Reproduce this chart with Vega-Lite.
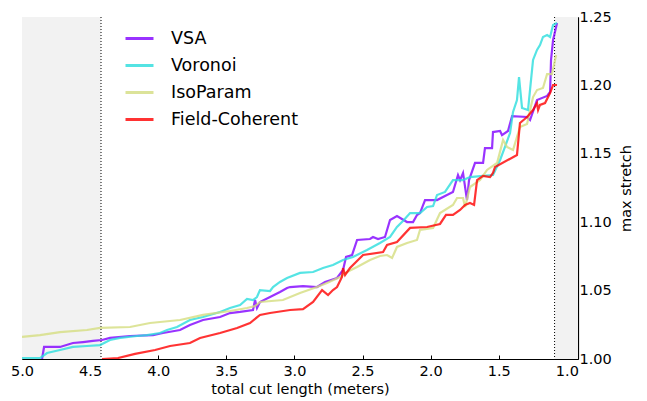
{
  "$schema": "https://vega.github.io/schema/vega-lite/v6.json",
  "width": 556,
  "height": 342,
  "autosize": "none",
  "padding": {"left": 22, "top": 17, "right": 69, "bottom": 42},
  "config": {
    "font": "DejaVu Sans",
    "view": {"stroke": null},
    "axis": {"grid": false, "domainColor": "black", "tickColor": "black", "labelColor": "black", "titleColor": "black", "titleFontWeight": "normal", "labelFontSize": 14.5, "titleFontSize": 14.5, "tickSize": -4, "labelFlush": false, "domainWidth": 1.2, "tickWidth": 1}
  },
  "datasets": {
    "bands": [{"x0": 5.0, "x1": 4.42}, {"x0": 1.09, "x1": 0.918}],
    "rules": [{"x": 4.42}, {"x": 1.09}],
    "series": [
      {"m":"VSA","i":0,"x":4.853,"y":1.000},
      {"m":"VSA","i":1,"x":4.838,"y":1.0088},
      {"m":"VSA","i":2,"x":4.721,"y":1.0088},
      {"m":"VSA","i":3,"x":4.626,"y":1.0117},
      {"m":"VSA","i":4,"x":4.552,"y":1.0124},
      {"m":"VSA","i":5,"x":4.479,"y":1.0132},
      {"m":"VSA","i":6,"x":4.413,"y":1.0139},
      {"m":"VSA","i":7,"x":4.354,"y":1.0154},
      {"m":"VSA","i":8,"x":4.207,"y":1.0168},
      {"m":"VSA","i":9,"x":4.038,"y":1.0175},
      {"m":"VSA","i":10,"x":3.965,"y":1.0190},
      {"m":"VSA","i":11,"x":3.840,"y":1.0212},
      {"m":"VSA","i":12,"x":3.767,"y":1.0249},
      {"m":"VSA","i":13,"x":3.671,"y":1.0285},
      {"m":"VSA","i":14,"x":3.546,"y":1.0307},
      {"m":"VSA","i":15,"x":3.473,"y":1.0336},
      {"m":"VSA","i":16,"x":3.399,"y":1.0344},
      {"m":"VSA","i":17,"x":3.304,"y":1.0358},
      {"m":"VSA","i":18,"x":3.289,"y":1.0431},
      {"m":"VSA","i":19,"x":3.275,"y":1.0373},
      {"m":"VSA","i":20,"x":3.253,"y":1.0417},
      {"m":"VSA","i":21,"x":3.179,"y":1.0453},
      {"m":"VSA","i":22,"x":3.106,"y":1.0490},
      {"m":"VSA","i":23,"x":3.054,"y":1.0519},
      {"m":"VSA","i":24,"x":3.032,"y":1.0526},
      {"m":"VSA","i":25,"x":2.937,"y":1.0533},
      {"m":"VSA","i":26,"x":2.834,"y":1.0526},
      {"m":"VSA","i":27,"x":2.775,"y":1.0563},
      {"m":"VSA","i":28,"x":2.687,"y":1.0592},
      {"m":"VSA","i":29,"x":2.643,"y":1.0651},
      {"m":"VSA","i":30,"x":2.621,"y":1.0746},
      {"m":"VSA","i":31,"x":2.577,"y":1.0760},
      {"m":"VSA","i":32,"x":2.540,"y":1.0870},
      {"m":"VSA","i":33,"x":2.445,"y":1.0877},
      {"m":"VSA","i":34,"x":2.423,"y":1.0892},
      {"m":"VSA","i":35,"x":2.386,"y":1.0877},
      {"m":"VSA","i":36,"x":2.335,"y":1.0892},
      {"m":"VSA","i":37,"x":2.298,"y":1.1016},
      {"m":"VSA","i":38,"x":2.247,"y":1.1045},
      {"m":"VSA","i":39,"x":2.173,"y":1.1001},
      {"m":"VSA","i":40,"x":2.129,"y":1.1001},
      {"m":"VSA","i":41,"x":2.100,"y":1.1053},
      {"m":"VSA","i":42,"x":2.078,"y":1.1067},
      {"m":"VSA","i":43,"x":2.041,"y":1.1162},
      {"m":"VSA","i":44,"x":1.953,"y":1.1162},
      {"m":"VSA","i":45,"x":1.880,"y":1.1199},
      {"m":"VSA","i":46,"x":1.836,"y":1.1221},
      {"m":"VSA","i":47,"x":1.799,"y":1.1345},
      {"m":"VSA","i":48,"x":1.784,"y":1.1308},
      {"m":"VSA","i":49,"x":1.762,"y":1.1360},
      {"m":"VSA","i":50,"x":1.733,"y":1.1162},
      {"m":"VSA","i":51,"x":1.718,"y":1.1308},
      {"m":"VSA","i":52,"x":1.674,"y":1.1433},
      {"m":"VSA","i":53,"x":1.615,"y":1.1433},
      {"m":"VSA","i":54,"x":1.601,"y":1.1542},
      {"m":"VSA","i":55,"x":1.549,"y":1.1542},
      {"m":"VSA","i":56,"x":1.542,"y":1.1659},
      {"m":"VSA","i":57,"x":1.490,"y":1.1667},
      {"m":"VSA","i":58,"x":1.476,"y":1.1637},
      {"m":"VSA","i":59,"x":1.432,"y":1.1667},
      {"m":"VSA","i":60,"x":1.402,"y":1.1776},
      {"m":"VSA","i":61,"x":1.292,"y":1.1769},
      {"m":"VSA","i":62,"x":1.270,"y":1.1747},
      {"m":"VSA","i":63,"x":1.219,"y":1.1893},
      {"m":"VSA","i":64,"x":1.145,"y":1.1923},
      {"m":"VSA","i":65,"x":1.123,"y":1.1952},
      {"m":"VSA","i":66,"x":1.116,"y":1.2186},
      {"m":"VSA","i":67,"x":1.101,"y":1.2332},
      {"m":"VSA","i":68,"x":1.072,"y":1.2456},

      {"m":"Voronoi","i":0,"x":5.000,"y":1.0007},
      {"m":"Voronoi","i":1,"x":4.868,"y":1.0007},
      {"m":"Voronoi","i":2,"x":4.816,"y":1.0044},
      {"m":"Voronoi","i":3,"x":4.721,"y":1.0066},
      {"m":"Voronoi","i":4,"x":4.626,"y":1.0088},
      {"m":"Voronoi","i":5,"x":4.523,"y":1.0095},
      {"m":"Voronoi","i":6,"x":4.427,"y":1.0102},
      {"m":"Voronoi","i":7,"x":4.354,"y":1.0139},
      {"m":"Voronoi","i":8,"x":4.280,"y":1.0154},
      {"m":"Voronoi","i":9,"x":4.156,"y":1.0168},
      {"m":"Voronoi","i":10,"x":4.082,"y":1.0175},
      {"m":"Voronoi","i":11,"x":3.987,"y":1.0190},
      {"m":"Voronoi","i":12,"x":3.935,"y":1.0212},
      {"m":"Voronoi","i":13,"x":3.862,"y":1.0234},
      {"m":"Voronoi","i":14,"x":3.767,"y":1.0285},
      {"m":"Voronoi","i":15,"x":3.671,"y":1.0307},
      {"m":"Voronoi","i":16,"x":3.546,"y":1.0344},
      {"m":"Voronoi","i":17,"x":3.473,"y":1.0373},
      {"m":"Voronoi","i":18,"x":3.399,"y":1.0395},
      {"m":"Voronoi","i":19,"x":3.348,"y":1.0439},
      {"m":"Voronoi","i":20,"x":3.304,"y":1.0431},
      {"m":"Voronoi","i":21,"x":3.275,"y":1.0453},
      {"m":"Voronoi","i":22,"x":3.253,"y":1.0504},
      {"m":"Voronoi","i":23,"x":3.179,"y":1.0497},
      {"m":"Voronoi","i":24,"x":3.157,"y":1.0526},
      {"m":"Voronoi","i":25,"x":3.106,"y":1.0563},
      {"m":"Voronoi","i":26,"x":3.054,"y":1.0592},
      {"m":"Voronoi","i":27,"x":2.959,"y":1.0629},
      {"m":"Voronoi","i":28,"x":2.863,"y":1.0636},
      {"m":"Voronoi","i":29,"x":2.790,"y":1.0665},
      {"m":"Voronoi","i":30,"x":2.717,"y":1.0687},
      {"m":"Voronoi","i":31,"x":2.643,"y":1.0724},
      {"m":"Voronoi","i":32,"x":2.570,"y":1.0746},
      {"m":"Voronoi","i":33,"x":2.467,"y":1.0797},
      {"m":"Voronoi","i":34,"x":2.372,"y":1.0848},
      {"m":"Voronoi","i":35,"x":2.298,"y":1.0892},
      {"m":"Voronoi","i":36,"x":2.247,"y":1.0965},
      {"m":"Voronoi","i":37,"x":2.203,"y":1.1009},
      {"m":"Voronoi","i":38,"x":2.151,"y":1.1067},
      {"m":"Voronoi","i":39,"x":2.078,"y":1.1067},
      {"m":"Voronoi","i":40,"x":2.026,"y":1.1111},
      {"m":"Voronoi","i":41,"x":1.982,"y":1.1118},
      {"m":"Voronoi","i":42,"x":1.953,"y":1.1199},
      {"m":"Voronoi","i":43,"x":1.894,"y":1.1221},
      {"m":"Voronoi","i":44,"x":1.836,"y":1.1308},
      {"m":"Voronoi","i":45,"x":1.762,"y":1.1308},
      {"m":"Voronoi","i":46,"x":1.711,"y":1.1330},
      {"m":"Voronoi","i":47,"x":1.615,"y":1.1338},
      {"m":"Voronoi","i":48,"x":1.542,"y":1.1345},
      {"m":"Voronoi","i":49,"x":1.490,"y":1.1455},
      {"m":"Voronoi","i":50,"x":1.454,"y":1.1550},
      {"m":"Voronoi","i":51,"x":1.417,"y":1.1652},
      {"m":"Voronoi","i":52,"x":1.395,"y":1.1806},
      {"m":"Voronoi","i":53,"x":1.366,"y":1.1893},
      {"m":"Voronoi","i":54,"x":1.351,"y":1.2061},
      {"m":"Voronoi","i":55,"x":1.329,"y":1.1835},
      {"m":"Voronoi","i":56,"x":1.285,"y":1.1820},
      {"m":"Voronoi","i":57,"x":1.263,"y":1.2039},
      {"m":"Voronoi","i":58,"x":1.248,"y":1.2186},
      {"m":"Voronoi","i":59,"x":1.219,"y":1.2259},
      {"m":"Voronoi","i":60,"x":1.197,"y":1.2295},
      {"m":"Voronoi","i":61,"x":1.175,"y":1.2354},
      {"m":"Voronoi","i":62,"x":1.145,"y":1.2368},
      {"m":"Voronoi","i":63,"x":1.123,"y":1.2354},
      {"m":"Voronoi","i":64,"x":1.101,"y":1.2442},
      {"m":"Voronoi","i":65,"x":1.072,"y":1.2456},

      {"m":"IsoParam","i":0,"x":5.000,"y":1.0161},
      {"m":"IsoParam","i":1,"x":4.868,"y":1.0175},
      {"m":"IsoParam","i":2,"x":4.721,"y":1.0197},
      {"m":"IsoParam","i":3,"x":4.523,"y":1.0212},
      {"m":"IsoParam","i":4,"x":4.427,"y":1.0227},
      {"m":"IsoParam","i":5,"x":4.207,"y":1.0234},
      {"m":"IsoParam","i":6,"x":4.060,"y":1.0263},
      {"m":"IsoParam","i":7,"x":3.840,"y":1.0285},
      {"m":"IsoParam","i":8,"x":3.671,"y":1.0322},
      {"m":"IsoParam","i":9,"x":3.473,"y":1.0351},
      {"m":"IsoParam","i":10,"x":3.348,"y":1.0373},
      {"m":"IsoParam","i":11,"x":3.289,"y":1.0387},
      {"m":"IsoParam","i":12,"x":3.253,"y":1.0417},
      {"m":"IsoParam","i":13,"x":3.084,"y":1.0431},
      {"m":"IsoParam","i":14,"x":2.959,"y":1.0482},
      {"m":"IsoParam","i":15,"x":2.834,"y":1.0526},
      {"m":"IsoParam","i":16,"x":2.761,"y":1.0556},
      {"m":"IsoParam","i":17,"x":2.665,"y":1.0599},
      {"m":"IsoParam","i":18,"x":2.614,"y":1.0636},
      {"m":"IsoParam","i":19,"x":2.540,"y":1.0673},
      {"m":"IsoParam","i":20,"x":2.445,"y":1.0724},
      {"m":"IsoParam","i":21,"x":2.372,"y":1.0753},
      {"m":"IsoParam","i":22,"x":2.320,"y":1.0760},
      {"m":"IsoParam","i":23,"x":2.283,"y":1.0738},
      {"m":"IsoParam","i":24,"x":2.247,"y":1.0819},
      {"m":"IsoParam","i":25,"x":2.173,"y":1.0848},
      {"m":"IsoParam","i":26,"x":2.100,"y":1.0870},
      {"m":"IsoParam","i":27,"x":2.078,"y":1.0943},
      {"m":"IsoParam","i":28,"x":1.982,"y":1.0958},
      {"m":"IsoParam","i":29,"x":1.931,"y":1.1067},
      {"m":"IsoParam","i":30,"x":1.836,"y":1.1126},
      {"m":"IsoParam","i":31,"x":1.806,"y":1.1177},
      {"m":"IsoParam","i":32,"x":1.762,"y":1.1177},
      {"m":"IsoParam","i":33,"x":1.747,"y":1.1111},
      {"m":"IsoParam","i":34,"x":1.711,"y":1.1257},
      {"m":"IsoParam","i":35,"x":1.637,"y":1.1308},
      {"m":"IsoParam","i":36,"x":1.586,"y":1.1382},
      {"m":"IsoParam","i":37,"x":1.512,"y":1.1433},
      {"m":"IsoParam","i":38,"x":1.468,"y":1.1601},
      {"m":"IsoParam","i":39,"x":1.439,"y":1.1550},
      {"m":"IsoParam","i":40,"x":1.395,"y":1.1528},
      {"m":"IsoParam","i":41,"x":1.344,"y":1.1696},
      {"m":"IsoParam","i":42,"x":1.292,"y":1.1718},
      {"m":"IsoParam","i":43,"x":1.248,"y":1.1915},
      {"m":"IsoParam","i":44,"x":1.219,"y":1.1966},
      {"m":"IsoParam","i":45,"x":1.175,"y":1.1981},
      {"m":"IsoParam","i":46,"x":1.145,"y":1.2083},
      {"m":"IsoParam","i":47,"x":1.109,"y":1.2083},
      {"m":"IsoParam","i":48,"x":1.079,"y":1.2222},

      {"m":"Field-Coherent","i":0,"x":4.413,"y":1.000},
      {"m":"Field-Coherent","i":1,"x":4.295,"y":1.0007},
      {"m":"Field-Coherent","i":2,"x":4.170,"y":1.0037},
      {"m":"Field-Coherent","i":3,"x":4.023,"y":1.0066},
      {"m":"Field-Coherent","i":4,"x":3.913,"y":1.0095},
      {"m":"Field-Coherent","i":5,"x":3.767,"y":1.0117},
      {"m":"Field-Coherent","i":6,"x":3.693,"y":1.0154},
      {"m":"Field-Coherent","i":7,"x":3.546,"y":1.0190},
      {"m":"Field-Coherent","i":8,"x":3.421,"y":1.0227},
      {"m":"Field-Coherent","i":9,"x":3.326,"y":1.0263},
      {"m":"Field-Coherent","i":10,"x":3.253,"y":1.0322},
      {"m":"Field-Coherent","i":11,"x":3.179,"y":1.0336},
      {"m":"Field-Coherent","i":12,"x":3.032,"y":1.0358},
      {"m":"Field-Coherent","i":13,"x":2.937,"y":1.0365},
      {"m":"Field-Coherent","i":14,"x":2.863,"y":1.0417},
      {"m":"Field-Coherent","i":15,"x":2.797,"y":1.0504},
      {"m":"Field-Coherent","i":16,"x":2.753,"y":1.0468},
      {"m":"Field-Coherent","i":17,"x":2.717,"y":1.0504},
      {"m":"Field-Coherent","i":18,"x":2.687,"y":1.0526},
      {"m":"Field-Coherent","i":19,"x":2.651,"y":1.0599},
      {"m":"Field-Coherent","i":20,"x":2.643,"y":1.0665},
      {"m":"Field-Coherent","i":21,"x":2.628,"y":1.0614},
      {"m":"Field-Coherent","i":22,"x":2.592,"y":1.0665},
      {"m":"Field-Coherent","i":23,"x":2.496,"y":1.0760},
      {"m":"Field-Coherent","i":24,"x":2.349,"y":1.0782},
      {"m":"Field-Coherent","i":25,"x":2.320,"y":1.0833},
      {"m":"Field-Coherent","i":26,"x":2.247,"y":1.0855},
      {"m":"Field-Coherent","i":27,"x":2.151,"y":1.0958},
      {"m":"Field-Coherent","i":28,"x":2.026,"y":1.0965},
      {"m":"Field-Coherent","i":29,"x":1.931,"y":1.0987},
      {"m":"Field-Coherent","i":30,"x":1.887,"y":1.1053},
      {"m":"Field-Coherent","i":31,"x":1.836,"y":1.1053},
      {"m":"Field-Coherent","i":32,"x":1.784,"y":1.1089},
      {"m":"Field-Coherent","i":33,"x":1.747,"y":1.1126},
      {"m":"Field-Coherent","i":34,"x":1.711,"y":1.1140},
      {"m":"Field-Coherent","i":35,"x":1.681,"y":1.1126},
      {"m":"Field-Coherent","i":36,"x":1.659,"y":1.1308},
      {"m":"Field-Coherent","i":37,"x":1.615,"y":1.1338},
      {"m":"Field-Coherent","i":38,"x":1.564,"y":1.1330},
      {"m":"Field-Coherent","i":39,"x":1.542,"y":1.1360},
      {"m":"Field-Coherent","i":40,"x":1.527,"y":1.1404},
      {"m":"Field-Coherent","i":41,"x":1.366,"y":1.1491},
      {"m":"Field-Coherent","i":42,"x":1.344,"y":1.1725},
      {"m":"Field-Coherent","i":43,"x":1.292,"y":1.1769},
      {"m":"Field-Coherent","i":44,"x":1.248,"y":1.1820},
      {"m":"Field-Coherent","i":45,"x":1.219,"y":1.1871},
      {"m":"Field-Coherent","i":46,"x":1.211,"y":1.1820},
      {"m":"Field-Coherent","i":47,"x":1.197,"y":1.1857},
      {"m":"Field-Coherent","i":48,"x":1.160,"y":1.1871},
      {"m":"Field-Coherent","i":49,"x":1.123,"y":1.1944},
      {"m":"Field-Coherent","i":50,"x":1.101,"y":1.2003},
      {"m":"Field-Coherent","i":51,"x":1.072,"y":1.2003}
    ]
  },
  "layer": [
    {
      "data": {"name": "bands"},
      "mark": {"type": "rect", "color": "#f2f2f2"},
      "encoding": {
        "x": {"field": "x0", "type": "quantitative", "scale": {"domain": [0.918, 5.0], "reverse": true, "nice": false, "zero": false}},
        "x2": {"field": "x1"}
      }
    },
    {
      "data": {"name": "rules"},
      "mark": {"type": "rule", "color": "black", "strokeDash": [1, 2], "strokeWidth": 1},
      "encoding": {
        "x": {"field": "x", "type": "quantitative"}
      }
    },
    {
      "data": {"name": "series"},
      "mark": {"type": "line", "strokeWidth": 2.2, "opacity": 0.8, "clip": true},
      "encoding": {
        "x": {"field": "x", "type": "quantitative", "axis": {"orient": "bottom", "values": [1.0, 1.5, 2.0, 2.5, 3.0, 3.5, 4.0, 4.5, 5.0], "format": ".1f", "title": "total cut length (meters)", "labelPadding": 9, "titlePadding": 5}},
        "y": {"field": "y", "type": "quantitative", "scale": {"domain": [1.0, 1.25], "nice": false, "zero": false}, "axis": {"orient": "right", "values": [1.0, 1.05, 1.1, 1.15, 1.2, 1.25], "format": ".2f", "title": "max stretch", "titleAngle": 270, "labelPadding": 5, "titlePadding": 22}},
        "color": {"field": "m", "type": "nominal", "scale": {"domain": ["VSA", "Voronoi", "IsoParam", "Field-Coherent"], "range": ["#8000ff", "#2adddd", "#d4dd80", "#ff0000"]},
          "legend": {"title": null, "orient": "none", "legendX": 102, "legendY": 6, "symbolType": "stroke", "symbolSize": 784, "symbolStrokeWidth": 3, "labelFontSize": 17.5, "labelColor": "black", "labelOffset": 16, "rowPadding": 3}},
        "order": {"field": "i", "type": "quantitative"}
      }
    }
  ]
}
